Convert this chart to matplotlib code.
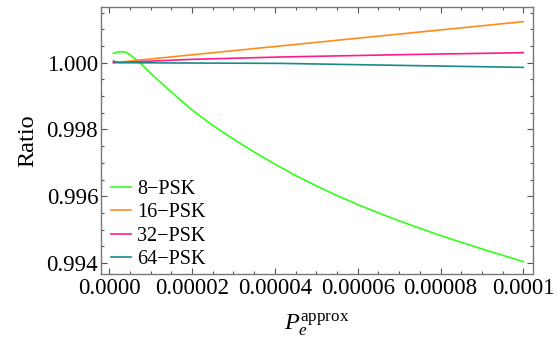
import numpy as np
import matplotlib
matplotlib.use('Agg')
import matplotlib.pyplot as plt
from matplotlib.ticker import MultipleLocator, FixedLocator, FixedFormatter

plt.rcParams['font.family'] = ['Liberation Serif', 'DejaVu Serif']
plt.rcParams['mathtext.fontset'] = 'custom'
plt.rcParams['mathtext.rm'] = 'Liberation Serif'
plt.rcParams['mathtext.it'] = 'Liberation Serif:italic'

# values (x in units of 1e-6)
x_8 = [1.0, 2.0, 3.0, 4.0, 5.0, 6.0, 7.4, 10, 15, 20, 25, 30, 35, 40, 45, 50,
       55, 60, 65, 70, 75, 80, 85, 90, 95, 100]
y_8 = [1.00028, 1.00032, 1.00033, 1.00031, 1.00024, 1.00014, 1.00000, 0.99968, 0.99912,
       0.99858, 0.99812, 0.99771, 0.99732, 0.99696, 0.99662, 0.99631, 0.99602, 0.99575,
       0.99550, 0.99526, 0.99504, 0.99482, 0.99462, 0.99442, 0.99423, 0.99404]
x_16 = [1.0, 41.2, 100]
y_16 = [1.00000, 1.00050, 1.00123]
x_32 = [1.0, 20, 41.2, 70, 100]
y_32 = [1.00000, 1.00010, 1.00017, 1.00024, 1.00030]
x_64 = [1.0, 1.6, 2.5, 20, 41.2, 70, 100]
y_64 = [1.00005, 1.00002, 1.00000, 0.99999, 0.99998, 0.99992, 0.99986]

labels = ['8\u2212PSK', '16\u2212PSK', '32\u2212PSK', '64\u2212PSK']
colors = ['#33ff1a', '#ff8c1a', '#ff1a8c', '#1a8a8a']

xticks = [0, 2e-5, 4e-5, 6e-5, 8e-5, 1e-4]
xticklabels = ['0.0000', '0.00002', '0.00004', '0.00006', '0.00008', '0.0001']
yticks = [0.994, 0.996, 0.998, 1.000]
yticklabels = ['0.994', '0.996', '0.998', '1.000']

fig = plt.figure(figsize=(5.58, 3.38), dpi=100)
ax = fig.add_axes([0.181, 0.1885, 0.7737, 0.7899])

for xs, ys, c, lab in zip([x_8, x_16, x_32, x_64], [y_8, y_16, y_32, y_64], colors, labels):
    ax.plot(np.array(xs) * 1e-6, ys, color=c, lw=1.2, label=lab)

ax.set_xlim(-2.0e-6, 1.0227e-4)
ax.set_ylim(0.99366, 1.00166)
ax.xaxis.set_major_locator(FixedLocator(xticks))
ax.xaxis.set_major_formatter(FixedFormatter(xticklabels))
ax.yaxis.set_major_locator(FixedLocator(yticks))
ax.yaxis.set_major_formatter(FixedFormatter(yticklabels))
ax.xaxis.set_minor_locator(MultipleLocator(5e-6))
ax.yaxis.set_minor_locator(MultipleLocator(0.0005))
ax.tick_params(which='both', direction='in', top=True, right=True, color='#555555',
               labelsize=16.5, width=0.8)
ax.tick_params(axis='x', pad=3)
ax.tick_params(axis='y', pad=2)
ax.tick_params(which='major', length=4.5)
ax.tick_params(which='minor', length=2.5)
for s in ax.spines.values():
    s.set_color('#777777')
    s.set_linewidth(1.0)

ax.set_ylabel('Ratio', fontsize=17.5, labelpad=6)
ax.set_xlabel(r'$P_e^{\mathrm{approx}}$', fontsize=17.5, labelpad=9)

ax.legend(loc='lower left', bbox_to_anchor=(0.005, -0.011), frameon=False, fontsize=14.5,
          handlelength=1.0, handletextpad=0.27, labelspacing=0.22, borderaxespad=0.0)

fig.savefig('out.png', dpi=100)
